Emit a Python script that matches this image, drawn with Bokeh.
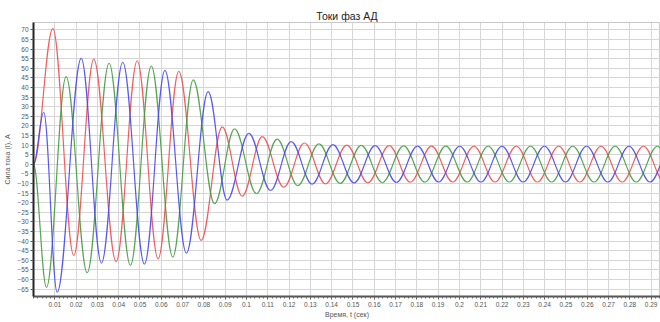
from bokeh.plotting import figure
from bokeh.models import Range1d, FixedTicker, ColumnDataSource
from bokeh.embed import file_html
from bokeh.resources import INLINE

title_text = "Токи фаз АД"
x_label = "Время, t (сек)"
y_label = "Сила тока (I), A"

x_ticks = [0.01, 0.02, 0.03, 0.04, 0.05, 0.06, 0.07, 0.08, 0.09, 0.10,
           0.11, 0.12, 0.13, 0.14, 0.15, 0.16, 0.17, 0.18, 0.19, 0.20,
           0.21, 0.22, 0.23, 0.24, 0.25, 0.26, 0.27, 0.28, 0.29]
x_tick_labels = ["0.01", "0.02", "0.03", "0.04", "0.05", "0.06", "0.07", "0.08", "0.09", "0.1",
                 "0.11", "0.12", "0.13", "0.14", "0.15", "0.16", "0.17", "0.18", "0.19", "0.2",
                 "0.21", "0.22", "0.23", "0.24", "0.25", "0.26", "0.27", "0.28", "0.29"]
y_ticks = [-65, -60, -55, -50, -45, -40, -35, -30, -25, -20, -15, -10, -5, 0,
           5, 10, 15, 20, 25, 30, 35, 40, 45, 50, 55, 60, 65, 70]

# extrema (time, current) of each phase
red_t = [0, 0.0091, 0.0189, 0.0283, 0.0388, 0.0487, 0.0585, 0.0682, 0.0787, 0.0886,
         0.0980, 0.1074, 0.1175, 0.1272, 0.1371, 0.1471, 0.1570, 0.1670, 0.1769, 0.1869,
         0.1968, 0.2068, 0.2167, 0.2267, 0.2366, 0.2466, 0.2565, 0.2665, 0.2764, 0.2864, 0.2963]
red_i = [0, 70.6, -47.4, 54.7, -50.7, 53.9, -49.1, 48.4, -39.6, 19.5,
         -16.6, 14.4, -11.9, 11.1, -10.2, 10.0, -9.6, 9.7, -9.3, 9.5,
         -9.2, 9.4, -9.2, 9.4, -9.2, 9.4, -9.2, 9.4, -9.2, 9.4, -9.2]

green_t = [0, 0.0061, 0.0153, 0.0252, 0.0355, 0.0455, 0.0553, 0.0654, 0.0750, 0.0850,
           0.0944, 0.1047, 0.1144, 0.1241, 0.1340, 0.1440, 0.1539, 0.1638, 0.1738, 0.1837,
           0.1936, 0.2036, 0.2135, 0.2234, 0.2334, 0.2433, 0.2532, 0.2632, 0.2731, 0.2830,
           0.2930, 0.3029]
green_i = [0, -64.1, 45.6, -56.4, 52.6, -52.6, 51.1, -48.3, 43.9, -20.5,
           18.4, -15.3, 13.1, -11.1, 10.6, -9.9, 9.9, -9.5, 9.6, -9.3,
           9.5, -9.2, 9.4, -9.2, 9.4, -9.2, 9.4, -9.2, 9.4, -9.2,
           9.4, -9.2]

blue_t = [0, 0.0048, 0.0111, 0.0224, 0.0319, 0.0419, 0.0521, 0.0617, 0.0718, 0.0820,
          0.0909, 0.1011, 0.1113, 0.1210, 0.1308, 0.1406, 0.1505, 0.1604, 0.1704, 0.1803,
          0.1902, 0.2001, 0.2101, 0.2200, 0.2299, 0.2399, 0.2498, 0.2597, 0.2697, 0.2796,
          0.2895, 0.2995]
blue_i = [0, 27.0, -66.6, 55.1, -51.4, 53.1, -51.9, 48.9, -46.2, 37.8,
          -18.6, 16.1, -13.6, 11.8, -10.3, 10.2, -9.7, 9.7, -9.4, 9.5,
          -9.2, 9.4, -9.2, 9.4, -9.2, 9.4, -9.2, 9.4, -9.2, 9.4,
          -9.2, 9.4]

phase_colors = ["#ef4f4f", "#449c44", "#4848ee"]

FONT = "Liberation Sans"

p = figure(width=660, height=320, output_backend="svg", toolbar_location=None,
           x_range=Range1d(0, 0.2944), y_range=Range1d(-68.8, 73.8),
           min_border_left=33, min_border_right=0, min_border_top=22, min_border_bottom=0)

p.title.text = title_text
p.title.align = "center"
p.title.text_font = FONT
p.title.text_font_size = "10.5px"
p.title.text_font_style = "normal"
p.title.text_color = "#222222"
p.title.standoff = 2
p.title.offset = 0

p.background_fill_color = "white"
p.border_fill_color = "white"
p.outline_line_color = "#c8c8c8"

# axes
p.xaxis.ticker = FixedTicker(ticks=x_ticks, minor_ticks=[k / 500 for k in range(0, 148)])
p.xaxis.major_label_overrides = {t: l for t, l in zip(x_ticks, x_tick_labels)}
p.yaxis.ticker = FixedTicker(ticks=y_ticks)
p.xaxis.axis_label = x_label
p.yaxis.axis_label = y_label
for ax in (p.xaxis[0], p.yaxis[0]):
    ax.axis_label_text_font = FONT
    ax.axis_label_text_font_size = "7px"
    ax.axis_label_text_font_style = "normal"
    ax.axis_label_text_color = "#555555"
    ax.major_label_text_font = FONT
    ax.major_label_text_font_size = "6.5px"
    ax.major_label_text_color = "#555555"
    ax.major_tick_in = 0
    ax.major_tick_out = 3
    ax.major_tick_line_color = "#555555"
    ax.minor_tick_in = 0
    ax.minor_tick_out = 2
    ax.minor_tick_line_color = "#666666"
    ax.axis_line_width = 2
    ax.major_label_standoff = 2
    ax.axis_label_standoff = 1
p.xaxis.axis_line_color = "#555555"
p.yaxis.axis_line_color = "#222222"
p.yaxis.minor_tick_line_color = None
p.yaxis.axis_label_standoff = 3

p.xgrid.ticker = FixedTicker(ticks=x_ticks)
p.ygrid.ticker = FixedTicker(ticks=y_ticks)
p.grid.grid_line_color = "#d6d6d6"
p.grid.grid_line_width = 1


def segments(t, v, a=0.364):
    x0, y0, x1, y1, cx0, cy0, cx1, cy1 = [], [], [], [], [], [], [], []
    for k in range(len(t) - 1):
        d = t[k + 1] - t[k]
        x0.append(t[k]); y0.append(v[k])
        x1.append(t[k + 1]); y1.append(v[k + 1])
        cx0.append(t[k] + a * d); cy0.append(v[k])
        cx1.append(t[k + 1] - a * d); cy1.append(v[k + 1])
    return ColumnDataSource(dict(x0=x0, y0=y0, x1=x1, y1=y1, cx0=cx0, cy0=cy0, cx1=cx1, cy1=cy1))


for (tt, vv), col in zip([(red_t, red_i), (green_t, green_i), (blue_t, blue_i)], phase_colors):
    p.bezier(x0="x0", y0="y0", x1="x1", y1="y1", cx0="cx0", cy0="cy0", cx1="cx1", cy1="cy1",
             source=segments(tt, vv), line_color=col, line_width=1.2, line_alpha=0.9)

open("out.html", "w").write(file_html(p, INLINE))
